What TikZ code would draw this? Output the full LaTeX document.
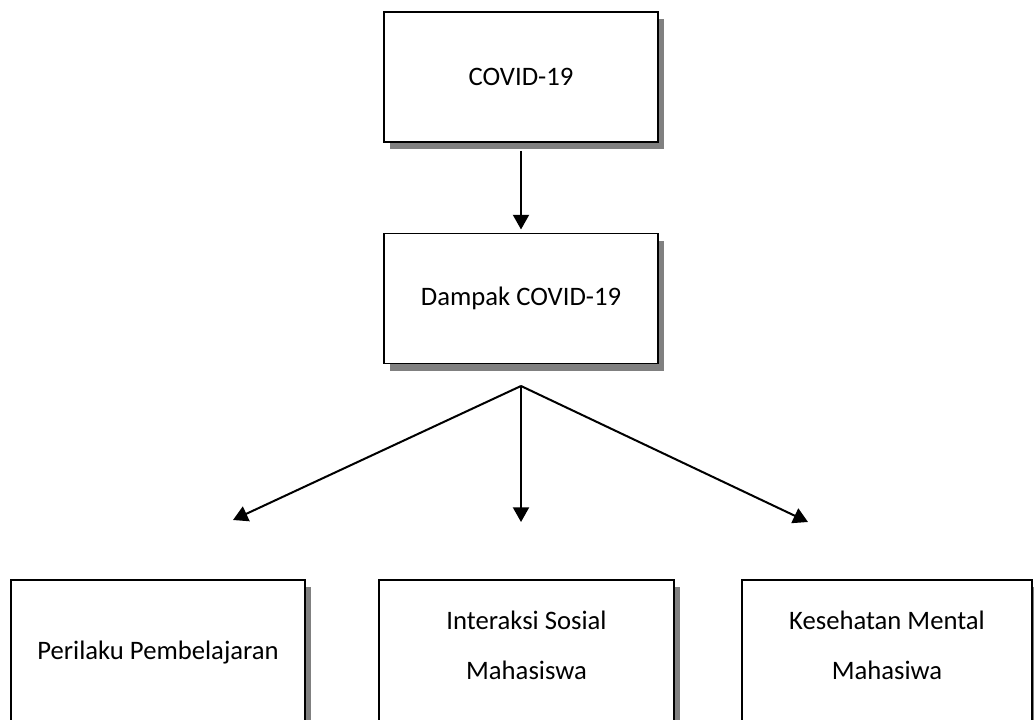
\documentclass[tikz,border=0pt]{standalone}
\usepackage{fontspec}
\setmainfont{Carlito}
\usetikzlibrary{positioning,arrows.meta,shadows}

\begin{document}
\begin{tikzpicture}[
  node distance=67.5pt,
  box/.style={draw, line width=1.2pt, fill=white, align=center,
              font=\fontsize{20pt}{37.5pt}\selectfont,
              drop shadow={shadow xshift=4.5pt, shadow yshift=-5.5pt,
                           fill=black!50, opacity=1}},
  cause/.style={box, minimum width=205.5pt, minimum height=97.5pt},
  outcome/.style={box, minimum height=109.5pt},
  arr/.style={-{Triangle[length=11pt, width=12pt]}, line width=1.5pt}
]
\useasboundingbox (0,0) rectangle (775.5pt,-540pt);
\clip (0,0) rectangle (775.5pt,-540pt);
\node[cause] (covid) at (390.75pt,-57.75pt) {COVID-19};
\node[cause, below=of covid] (dampak) {Dampak COVID-19};
\coordinate (split) at (390.75pt,-289.5pt);
\coordinate (tipL) at (174.75pt,-390pt);
\coordinate (tipM) at (390.75pt,-391.5pt);
\coordinate (tipR) at (606pt,-391.5pt);
\node[outcome, minimum width=220.5pt] (perilaku) at (118.5pt,-489.75pt) {Perilaku Pembelajaran};
\node[outcome, minimum width=221.25pt, text depth=12pt] (sosial) at (394.9pt,-489.75pt) {Interaksi Sosial\\Mahasiswa};
\node[outcome, minimum width=217.5pt, text depth=12pt] (mental) at (665.25pt,-489.75pt) {Kesehatan Mental\\Mahasiwa};
\draw[arr, shorten >=2.5pt] ([yshift=-6pt]covid.south) -- (dampak.north);
\draw[arr] (split) -- (tipL);
\draw[arr] (split) -- (tipM);
\draw[arr] (split) -- (tipR);
\end{tikzpicture}
\end{document}
